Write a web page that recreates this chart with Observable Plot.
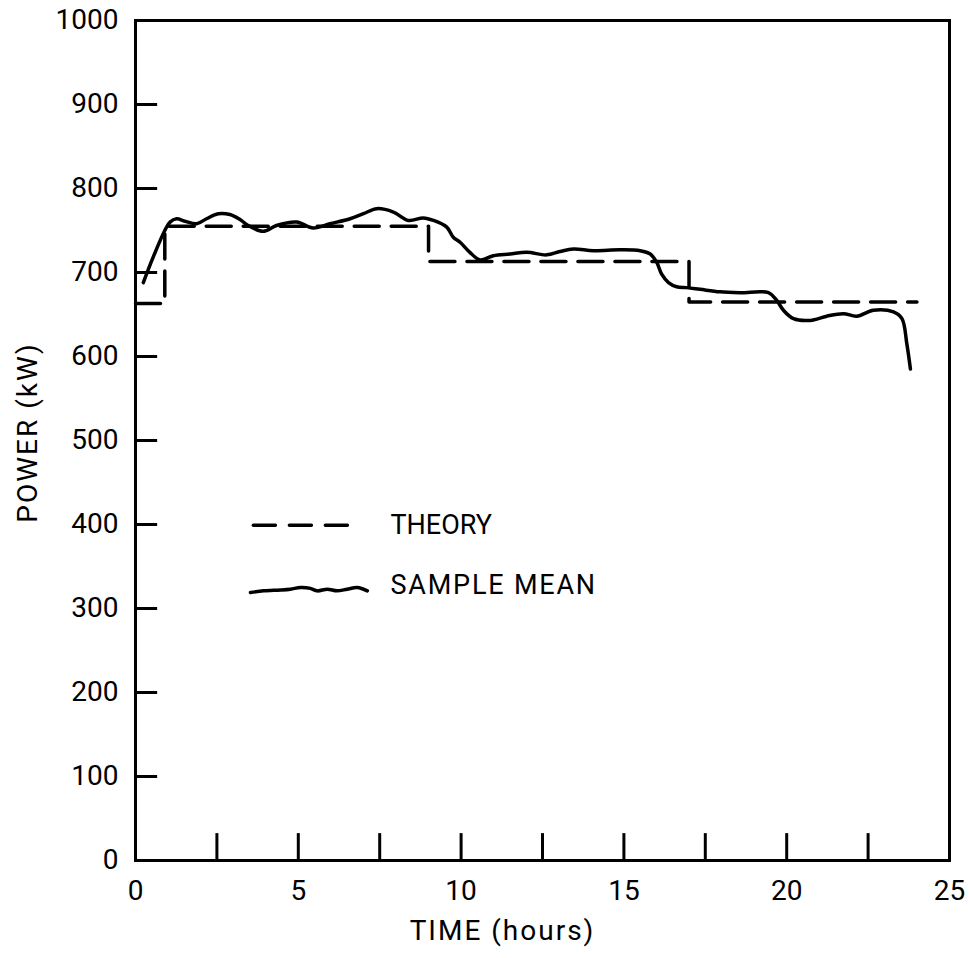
<!DOCTYPE html>
<html>
<head>
<meta charset="utf-8">
<script src="https://cdn.jsdelivr.net/npm/d3@7"></script>
<script src="https://cdn.jsdelivr.net/npm/@observablehq/plot@0.6"></script>
<style>
  html, body { margin: 0; padding: 0; background: #fff; }
  #chart svg { display: block; }
</style>
</head>
<body>
<div id="chart"></div>
<script>
// ---- Data ----
const sampleHours = [0.24, 0.54, 0.9, 1.06, 1.26, 1.52, 1.88, 2.18, 2.54, 2.90, 3.21, 3.46, 3.92, 4.33, 4.95, 5.46, 5.97, 6.59, 7.00, 7.41, 7.92, 8.38, 8.84, 9.15, 9.56, 9.76, 9.97, 10.27, 10.58, 10.99, 11.5, 12.02, 12.63, 13.04, 13.45, 14.06, 14.88, 15.5, 15.81, 16.01, 16.16, 16.37, 16.62, 16.93, 17.34, 17.95, 18.57, 19.44, 19.69, 19.9, 20.21, 20.72, 21.23, 21.74, 22.15, 22.66, 23.28, 23.54, 23.69, 23.8];
const sampleKW = [688, 718, 750, 760, 764, 761, 758, 764, 770, 769, 763, 756, 749, 756, 760, 753, 758, 764, 770, 776, 772, 762, 765, 762, 754, 742, 736, 724, 715, 720, 722, 724, 721, 725, 728, 726, 727, 726, 722, 712, 698, 688, 683, 682, 680, 677, 676, 676, 667, 655, 645, 643, 648, 651, 648, 655, 653, 645, 615, 585];

const theoryHours = [0, 0.9, 9, 17, 24];
const theoryKW = [663, 755, 713, 665, 665];

const xTickLabels = [0, 5, 10, 15, 20, 25];
const xInnerTicks = [2.5, 5, 7.5, 10, 12.5, 15, 17.5, 20, 22.5];
const yTickLabels = [0, 100, 200, 300, 400, 500, 600, 700, 800, 900, 1000];
const yInnerTicks = [100, 200, 300, 400, 500, 600, 700, 800, 900];

const legendTheoryHours = [3.62, 6.54];
const legendTheoryKW = [399, 399];
const legendSampleHours = [3.53, 3.94, 4.45, 4.76, 5.07, 5.37, 5.58, 5.89, 6.19, 6.50, 6.81, 7.12];
const legendSampleKW = [319, 321, 322, 323, 325, 324, 321, 323, 321, 323, 325, 321];
const legendLabels = ["THEORY", "SAMPLE MEAN"];
const legendLabelHours = [7.83, 7.83];
const legendLabelKW = [399, 327];

const xLabel = "TIME (hours)";
const yLabel = "POWER (kW)";

// ---- Tables built from the arrays ----
const sample = sampleHours.map((h, i) => ({h, kw: sampleKW[i]}));
const theory = theoryHours.map((h, i) => ({h, kw: theoryKW[i]}));
const legTheory = legendTheoryHours.map((h, i) => ({h, kw: legendTheoryKW[i]}));
const legSample = legendSampleHours.map((h, i) => ({h, kw: legendSampleKW[i]}));
const legText = legendLabels.map((t, i) => ({t, h: legendLabelHours[i], kw: legendLabelKW[i]}));

const chart = Plot.plot({
  width: 970,
  height: 958,
  marginLeft: 135,
  marginRight: 21,
  marginTop: 20,
  marginBottom: 98,
  style: {fontFamily: "Roboto, 'DejaVu Sans', sans-serif", fontSize: "28px", color: "#000", background: "#fff"},
  x: {domain: [0, 25]},
  y: {domain: [0, 1000]},
  marks: [
    Plot.axisX({ticks: xTickLabels, tickSize: 0, tickPadding: 20, label: null, fontSize: 28, tickFormat: d => String(d)}),
    Plot.axisY({ticks: yTickLabels, tickSize: 0, tickPadding: 17, label: null, fontSize: 28, tickFormat: d => String(d)}),
    Plot.ruleY(yInnerTicks, {y: d => d, x1: 0, x2: 0.68, stroke: "#000", strokeWidth: 3}),
    Plot.ruleX(xInnerTicks, {x: d => d, y1: 0, y2: 32, stroke: "#000", strokeWidth: 3}),
    Plot.line(theory, {x: "h", y: "kw", curve: "step-after", stroke: "#000", strokeWidth: 3.5, strokeDasharray: "25,12"}),
    Plot.line(sample, {x: "h", y: "kw", curve: "catmull-rom", stroke: "#000", strokeWidth: 3.5}),
    Plot.line(legTheory, {x: "h", y: "kw", stroke: "#000", strokeWidth: 3.5, strokeDasharray: "22,14"}),
    Plot.line(legSample, {x: "h", y: "kw", curve: "catmull-rom", stroke: "#000", strokeWidth: 3.5}),
    Plot.text(legText, {x: "h", y: "kw", text: "t", textAnchor: "start", lineAnchor: "middle", fontSize: 27, fill: "#000"}),
    Plot.text([yLabel], {frameAnchor: "left", textAnchor: "middle", lineAnchor: "middle", dx: -107, dy: -8, rotate: -90, fontSize: 28, fill: "#000"}),
    Plot.text([xLabel], {frameAnchor: "bottom", textAnchor: "middle", lineAnchor: "middle", dx: -40, dy: 71, fontSize: 28, fill: "#000"}),
    Plot.frame({stroke: "#000", strokeWidth: 3})
  ]
});
document.getElementById("chart").appendChild(chart);
const sel = d3.select(chart).selectAll("text");
sel.filter(function() { return this.textContent === "SAMPLE MEAN"; }).attr("letter-spacing", 1.8);
sel.filter(function() { return this.textContent === xLabel || this.textContent === yLabel; }).attr("letter-spacing", 2);
</script>
</body>
</html>
